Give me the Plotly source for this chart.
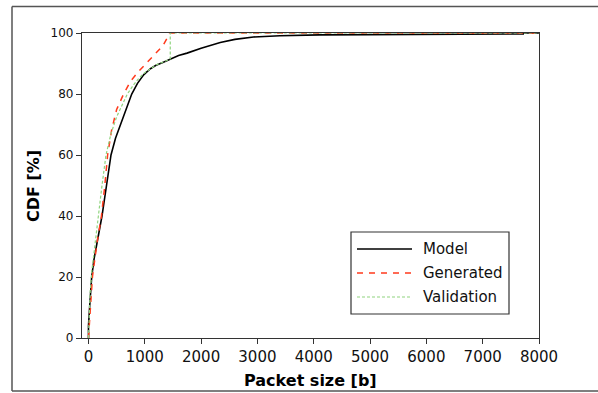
import plotly.graph_objects as go

# ---- data ----
model_x = [0, 0, 20, 57, 100, 150, 200, 240, 320, 400, 480, 570, 670, 768, 870, 980, 1100, 1200, 1330, 1454,
           1600, 1750, 2000, 2340, 2600, 2930, 3400, 4100, 5000, 6000, 7000, 7720, 7720, 8000]
model_y = [0, 4, 10, 20, 26, 31, 35.5, 40, 50, 60, 65.5, 70, 75.5, 80, 83.5, 86.3, 88.3, 89.4, 90.4, 91.5,
           92.6, 93.4, 95, 96.9, 97.9, 98.7, 99.1, 99.4, 99.5, 99.6, 99.7, 99.7, 100, 100]

gen_x = [0, 40, 70, 150, 230, 290, 340, 412, 500, 619, 740, 880, 1020, 1170, 1320, 1420, 1440, 8000]
gen_y = [0, 12, 20, 31, 40, 50, 60, 68.3, 74.9, 79.8, 84, 87.2, 90, 92.7, 95.8, 99.1, 100, 100]

val_x = [0, 30, 60, 120, 175, 240, 311, 400, 500, 600, 690, 800, 900, 1000, 1100, 1200, 1330, 1452, 1452, 8000]
val_y = [0, 15, 22, 32, 40, 50, 60, 67, 72.5, 76.5, 80, 83, 85.3, 87, 88.3, 89.5, 90.5, 91.5, 100, 100]

series_names = ["Model", "Generated", "Validation"]
x_ticks = [0, 1000, 2000, 3000, 4000, 5000, 6000, 7000, 8000]
y_ticks = [0, 20, 40, 60, 80, 100]

# ---- styles ----
W, H = 598, 393
L, R, T, B = 82, 539, 33, 338
colors = {"Model": "#000000", "Generated": "#ff3a1c", "Validation": "#8fd47e"}
dashes = {"Model": "solid", "Generated": "6px,6px", "Validation": "3px,2px"}
widths = {"Model": 1.6, "Generated": 1.5, "Validation": 1.2}

def px(x):
    return (x - L) / (R - L)

def py(y):
    return (B - y) / (B - T)

fig = go.Figure()
for name, xs, ys in [("Model", model_x, model_y), ("Generated", gen_x, gen_y), ("Validation", val_x, val_y)]:
    fig.add_trace(go.Scatter(x=xs, y=ys, mode="lines", name=name, showlegend=False,
                             line=dict(color=colors[name], width=widths[name], dash=dashes[name])))

axis_common = dict(showgrid=False, zeroline=False, showline=True, linecolor="#333333", linewidth=1.2,
                   mirror=True, ticks="outside", ticklen=5, tickcolor="#333333", tickwidth=1)
fig.update_xaxes(range=[-115, 8000], tickvals=x_ticks, ticktext=[str(v) for v in x_ticks],
                 tickfont=dict(family="DejaVu Sans", size=15, color="#111111"), **axis_common)
fig.update_yaxes(range=[0, 100], tickvals=y_ticks, ticktext=[str(v) for v in y_ticks],
                 tickfont=dict(family="DejaVu Sans", size=12, color="#111111"), **axis_common)

shapes = []
annotations = []
# outer frame (top, left, bottom edges)
frame = dict(color="#555555", width=1.5)
shapes.append(dict(type="line", xref="paper", yref="paper", x0=px(12), x1=px(598), y0=py(6.5), y1=py(6.5), line=frame))
shapes.append(dict(type="line", xref="paper", yref="paper", x0=px(12), x1=px(12), y0=py(6.5), y1=py(391), line=frame))
shapes.append(dict(type="line", xref="paper", yref="paper", x0=px(12), x1=px(598), y0=py(391), y1=py(391), line=frame))
# axis titles
annotations.append(dict(text="<b>Packet size [b]</b>", xref="paper", yref="paper", x=px(310.5), y=py(380),
                        showarrow=False, xanchor="center", yanchor="middle",
                        font=dict(family="DejaVu Sans", size=16, color="#000000")))
annotations.append(dict(text="<b>CDF [%]</b>", xref="paper", yref="paper", x=px(33), y=py(186),
                        showarrow=False, xanchor="center", yanchor="middle", textangle=-90,
                        font=dict(family="DejaVu Sans", size=16, color="#000000")))
# legend box
shapes.append(dict(type="rect", xref="paper", yref="paper", x0=px(351), x1=px(509), y0=py(314), y1=py(232),
                   line=dict(color="#333333", width=1.2), fillcolor="white"))
rows = [249, 273, 297]
for name, ry in zip(series_names, rows):
    shapes.append(dict(type="line", xref="paper", yref="paper", x0=px(357), x1=px(412), y0=py(ry), y1=py(ry),
                       line=dict(color=colors[name], width=widths[name], dash=dashes[name])))
    annotations.append(dict(text=name, xref="paper", yref="paper", x=px(421), y=py(ry), showarrow=False,
                            xanchor="left", yanchor="middle",
                            font=dict(family="DejaVu Sans", size=15, color="#111111")))

fig.update_layout(width=W, height=H, margin=dict(l=L, r=W - R, t=T, b=H - B),
                  paper_bgcolor="white", plot_bgcolor="white", shapes=shapes, annotations=annotations,
                  showlegend=False)

fig.write_html("out.html", config={"displayModeBar": False},
               post_script="document.body.style.margin='0px';document.body.style.padding='0px';"
                           "document.documentElement.style.overflow='hidden';")
